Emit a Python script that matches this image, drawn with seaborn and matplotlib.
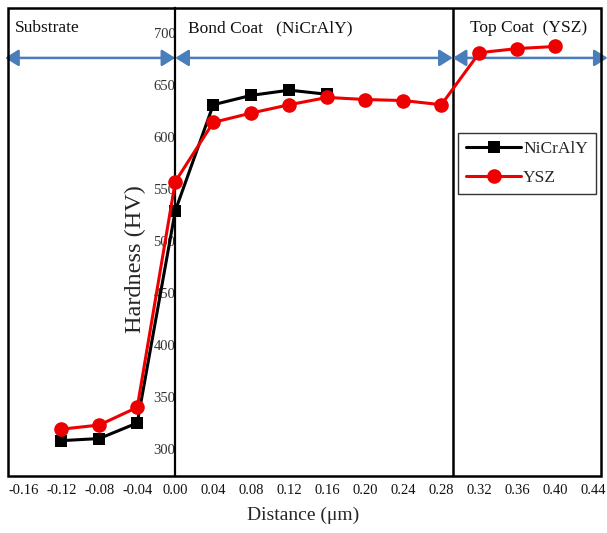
import matplotlib
matplotlib.use("Agg")
import matplotlib.pyplot as plt
import matplotlib.transforms as mtransforms
from matplotlib.patches import Rectangle
import numpy as np
import pandas as pd
import seaborn as sns

# Microhardness profile across the TBC cross-section
distance_nicraly = [-0.12, -0.08, -0.04, 0.00, 0.04, 0.08, 0.12, 0.16]
hardness_nicraly = [308, 310, 325, 529, 631, 640, 645, 641]

distance_ysz = [-0.12, -0.08, -0.04, 0.00, 0.04, 0.08, 0.12, 0.16, 0.20, 0.24, 0.28, 0.32, 0.36, 0.40]
hardness_ysz = [319, 323, 340, 557, 614, 623, 631, 638, 636, 635, 631, 681, 685, 687]

x_ticks = [-0.16, -0.12, -0.08, -0.04, 0.00, 0.04, 0.08, 0.12, 0.16, 0.20, 0.24, 0.28, 0.32, 0.36, 0.40, 0.44]
y_ticks = [300, 350, 400, 450, 500, 550, 600, 650, 700]

interface_x = 0.292          # bond coat / top coat boundary
region_y = 676               # level of the region arrows
regions = ["Substrate", "Bond Coat   (NiCrAlY)", "Top Coat  (YSZ)"]

df_nicraly = pd.DataFrame({"Distance": distance_nicraly, "Hardness": hardness_nicraly, "Layer": "NiCrAlY"})
df_ysz = pd.DataFrame({"Distance": distance_ysz, "Hardness": hardness_ysz, "Layer": "YSZ"})

sns.set_style("white")
plt.rcParams["font.family"] = ["Liberation Serif", "DejaVu Serif"]

fig = plt.figure(figsize=(6.07, 5.33), dpi=100)
ax = fig.add_axes([8 / 607, 57 / 533, 593 / 607, 468 / 533])

xlim = (-0.176, 0.448)
ylim = (274, 724)
ax.set_xlim(*xlim)
ax.set_ylim(*ylim)

sns.lineplot(data=df_nicraly, x="Distance", y="Hardness", ax=ax, color="black",
             marker="s", markersize=8, markeredgewidth=0, linewidth=2.2,
             label="NiCrAlY", zorder=3)
sns.lineplot(data=df_ysz, x="Distance", y="Hardness", ax=ax, color="#ee0000",
             marker="o", markersize=10.5, markeredgewidth=0, linewidth=2.2,
             label="YSZ", zorder=4)

# y axis sits at zero distance; outer frame drawn separately
for side in ["top", "right", "bottom"]:
    ax.spines[side].set_visible(False)
ax.spines["left"].set_position(("data", 0))
ax.spines["left"].set_linewidth(1.6)
ax.spines["left"].set_color("black")
ax.add_patch(Rectangle((0, 0), 1, 1, transform=ax.transAxes, fill=False,
                       edgecolor="black", linewidth=1.8, clip_on=False, zorder=5))
ax.axvline(interface_x, color="black", linewidth=1.8, zorder=2)

ax.set_xticks(x_ticks)
ax.set_xticklabels([f"{v:.2f}" for v in x_ticks])
ax.set_yticks(y_ticks)
ax.tick_params(axis="x", length=0, pad=6, labelsize=10.5, colors="#111111")
ax.tick_params(axis="y", length=0, pad=0, labelsize=10.5, colors="#333333")

ax.set_xlabel("Distance (μm)", fontsize=14)
ax.xaxis.set_label_coords(0.497, -0.066)
ax.set_ylabel("Hardness (HV)", fontsize=17.5)
ax.yaxis.set_label_coords(0.232, 0.464)

# Region arrows
arrow_color = "#4a7ebb"
spans = [(xlim[0] - 0.003, 0.0), (0.0, interface_x), (interface_x, 0.455)]
for x0, x1 in spans:
    ax.annotate("", xy=(x0, region_y), xytext=(x1, region_y),
                arrowprops=dict(arrowstyle="<|-|>,head_length=0.8,head_width=0.5",
                                color=arrow_color, lw=1.8, shrinkA=0, shrinkB=0),
                annotation_clip=False, zorder=2)

# Region labels
trans = mtransforms.blended_transform_factory(ax.transData, ax.transAxes)
label_x = [-0.1686, 0.0137, 0.3105]
for lx, txt in zip(label_x, regions):
    ax.text(lx, 0.957, txt, transform=trans, fontsize=12.5, ha="left", va="center",
            color="#111111")

leg = ax.legend(loc="upper left", bbox_to_anchor=(0.759, 0.733), borderaxespad=0,
                fontsize=12.5, frameon=True, fancybox=False, edgecolor="black",
                handlelength=3.2, handletextpad=0.1, labelspacing=0.75,
                borderpad=0.45)
leg.get_frame().set_linewidth(1.0)

fig.savefig("out.png", dpi=100)
